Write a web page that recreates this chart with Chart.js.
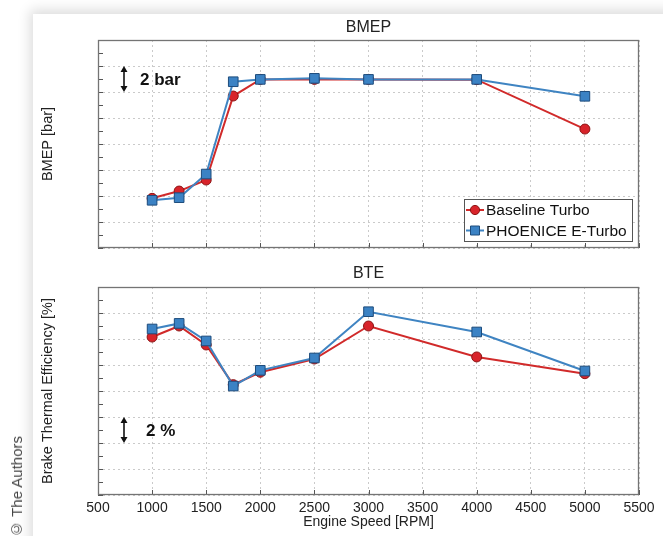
<!DOCTYPE html>
<html>
<head>
<meta charset="utf-8">
<script src="https://cdn.jsdelivr.net/npm/chart.js@4.4.0/dist/chart.umd.min.js"></script>
<style>
  body { margin: 0; width: 663px; height: 536px; background: #fff; position: relative; overflow: hidden; font-family: 'Liberation Sans', Arial, sans-serif; }
  #panel { position: absolute; left: 33px; top: 14px; width: 660px; height: 560px; background: #fff; box-shadow: -3px -4px 12px rgba(0, 0, 0, 0.14); }
  #top { position: absolute; left: 0; top: 0; }
  #bottom { position: absolute; left: 0; top: 262px; }
  #credit { position: absolute; left: 8px; top: 436px; writing-mode: vertical-rl; transform: rotate(180deg); font-size: 15px; color: #444; white-space: nowrap; }
</style>
</head>
<body>
<div id="panel"></div>
<canvas id="top" width="663" height="262"></canvas>
<canvas id="bottom" width="663" height="274"></canvas>
<div id="credit">© The Authors</div>
<script>
// engine speed points [RPM]
const rpm = [1000, 1250, 1500, 1750, 2000, 2500, 3000, 4000, 5000];

// BMEP [bar] (absolute level not given in the figure, only the 2 bar scale)
const bmepBaseline = [11.82, 12.38, 13.23, 19.69, 20.97, 20.97, 20.97, 20.95, 17.15];
const bmepPhoenice = [11.67, 11.87, 13.69, 20.79, 20.97, 21.05, 20.97, 20.97, 19.67];

// brake thermal efficiency [%]
const bteBaseline = [36.15, 37.0, 35.54, 32.49, 33.44, 34.46, 37.0, 34.62, 33.33];
const btePhoenice = [36.77, 37.2, 35.85, 32.38, 33.59, 34.54, 38.1, 36.54, 33.54];

const seriesNames = ['Baseline Turbo', 'PHOENICE E-Turbo'];
const xTicks = [500, 5500, 500]; // min, max, step

Chart.defaults.font.family = "'Liberation Sans', Arial, sans-serif";
Chart.defaults.color = '#222';

const red = { line: '#d12a2a', fill: '#d8232a', edge: '#8c1414' };
const blue = { line: '#3f84c2', fill: '#3b82c4', edge: '#1e4c7c' };

const toPoints = (ys) => rpm.map((x, i) => ({ x, y: ys[i] }));

const makeDatasets = (base, phoenice) => [
  {
    label: seriesNames[0],
    data: toPoints(base),
    borderColor: red.line,
    borderWidth: 2,
    pointStyle: 'circle',
    pointRadius: 5,
    pointBackgroundColor: red.fill,
    pointBorderColor: red.edge,
    pointBorderWidth: 1,
    order: 1,
  },
  {
    label: seriesNames[1],
    data: toPoints(phoenice),
    borderColor: blue.line,
    borderWidth: 2,
    pointStyle: 'rect',
    pointRadius: 6.8,
    pointBackgroundColor: blue.fill,
    pointBorderColor: blue.edge,
    pointBorderWidth: 1,
    order: 0,
  },
];

// frame and inward tick marks
const frameTicks = {
  id: 'frameTicks',
  afterDraw(chart) {
    const { ctx, chartArea: a, scales: { x, y } } = chart;
    ctx.save();
    ctx.strokeStyle = '#555';
    ctx.lineWidth = 1;
    ctx.beginPath();
    for (let v = y.min; v <= y.max; v += 1) {
      const py = Math.round(y.getPixelForValue(v)) + 0.5;
      ctx.moveTo(a.left, py);
      ctx.lineTo(a.left + 5, py);
    }
    for (let v = x.min; v <= x.max; v += xTicks[2]) {
      const px = Math.round(x.getPixelForValue(v)) + 0.5;
      ctx.moveTo(px, a.bottom);
      ctx.lineTo(px, a.bottom - 5);
    }
    ctx.stroke();
    ctx.strokeStyle = '#747474';
    ctx.lineWidth = 1.3;
    ctx.strokeRect(Math.round(a.left) + 0.5, Math.round(a.top) + 0.5, Math.round(a.width) - 1, Math.round(a.height) - 1);
    ctx.restore();
  },
};

// "2 bar" / "2 %" scale indicator
const scaleBar = {
  id: 'scaleBar',
  afterDraw(chart, args, opts) {
    if (!opts.label) return;
    const { ctx, chartArea: a, scales: { y } } = chart;
    const x = a.left + 26;
    const y1 = y.getPixelForValue(opts.to);
    const y2 = y.getPixelForValue(opts.from);
    ctx.save();
    ctx.strokeStyle = '#111';
    ctx.fillStyle = '#111';
    ctx.lineWidth = 1.6;
    ctx.beginPath();
    ctx.moveTo(x, y1 + 4);
    ctx.lineTo(x, y2 - 4);
    ctx.stroke();
    ctx.beginPath();
    ctx.moveTo(x, y1); ctx.lineTo(x - 3.5, y1 + 6); ctx.lineTo(x + 3.5, y1 + 6); ctx.closePath();
    ctx.moveTo(x, y2); ctx.lineTo(x - 3.5, y2 - 6); ctx.lineTo(x + 3.5, y2 - 6); ctx.closePath();
    ctx.fill();
    ctx.font = "bold 17px 'Liberation Sans', Arial, sans-serif";
    ctx.textBaseline = 'middle';
    ctx.fillText(opts.label, x + opts.gap, (y1 + y2) / 2 + 1);
    ctx.restore();
  },
};

// boxed legend inside the plot area, bottom right
const boxLegend = {
  id: 'boxLegend',
  afterDraw(chart, args, opts) {
    if (!opts.show) return;
    const { ctx, chartArea: a } = chart;
    const w = 168, h = 42;
    const left = a.right - 7 - w, top = a.bottom - 7 - h;
    ctx.save();
    ctx.fillStyle = '#fff';
    ctx.fillRect(left, top, w, h);
    ctx.strokeStyle = '#555';
    ctx.lineWidth = 1;
    ctx.strokeRect(Math.round(left) + 0.5, Math.round(top) + 0.5, w, h);
    ctx.font = "15.5px 'Liberation Sans', Arial, sans-serif";
    ctx.textBaseline = 'middle';
    chart.data.datasets.forEach((ds, i) => {
      const cy = top + 11 + i * 20.5;
      const mx = left + 11;
      ctx.strokeStyle = ds.borderColor;
      ctx.lineWidth = 2;
      ctx.beginPath();
      ctx.moveTo(left + 2, cy);
      ctx.lineTo(left + 20, cy);
      ctx.stroke();
      ctx.fillStyle = ds.pointBackgroundColor;
      ctx.strokeStyle = ds.pointBorderColor;
      ctx.lineWidth = 1;
      ctx.beginPath();
      if (ds.pointStyle === 'rect') {
        ctx.rect(mx - 4.5, cy - 4.5, 9, 9);
      } else {
        ctx.arc(mx, cy, 4.6, 0, Math.PI * 2);
      }
      ctx.fill();
      ctx.stroke();
      ctx.fillStyle = '#111';
      ctx.fillText(ds.label, left + 22, cy + 1);
    });
    ctx.restore();
  },
};

function makeChart(id, cfg) {
  return new Chart(document.getElementById(id), {
    type: 'line',
    data: { datasets: makeDatasets(cfg.base, cfg.phoenice) },
    plugins: [frameTicks, scaleBar, boxLegend],
    options: {
      responsive: false,
      animation: false,
      devicePixelRatio: 1,
      layout: { padding: { left: 0, right: 24, top: 0, bottom: 0 } },
      plugins: {
        legend: { display: false },
        tooltip: { enabled: false },
        scaleBar: cfg.bar,
        boxLegend: { show: cfg.legend },
      },
      scales: {
        // top axis only carries the panel title, centred over the plot
        xt: {
          type: 'linear',
          position: 'top',
          min: xTicks[0],
          max: xTicks[1],
          ticks: { display: false },
          grid: { display: false },
          border: { display: false },
          title: {
            display: true,
            text: cfg.title,
            font: { size: 16 },
            color: '#222',
            padding: { top: cfg.titleTop, bottom: 0 },
          },
          afterFit: (s) => { s.height = cfg.titleHeight; },
        },
        x: {
          type: 'linear',
          min: xTicks[0],
          max: xTicks[1],
          ticks: {
            stepSize: xTicks[2],
            display: cfg.xLabels,
            padding: 5,
            font: { size: 14 },
            color: '#222',
            callback: (v) => String(v),
          },
          grid: { color: '#cacaca', drawTicks: false },
          border: { display: false, dash: [2, 3] },
          title: {
            display: cfg.xLabels,
            text: 'Engine Speed [RPM]',
            font: { size: 14 },
            color: '#222',
            padding: { top: 0, bottom: 5 },
          },
          afterFit: (s) => { s.height = cfg.xHeight; },
        },
        y: {
          min: cfg.yRange[0],
          max: cfg.yRange[1],
          ticks: { stepSize: 2, display: false },
          grid: { color: '#cacaca', drawTicks: false },
          border: { display: false, dash: [2, 3] },
          title: {
            display: true,
            text: cfg.yTitle,
            font: { size: 14.5 },
            color: '#222',
            padding: { top: 39, bottom: 0 },
          },
          afterFit: (s) => { s.width = 98; },
        },
      },
    },
  });
}

makeChart('top', {
  base: bmepBaseline,
  phoenice: bmepPhoenice,
  title: 'BMEP',
  titleTop: 18,
  titleHeight: 40,
  yTitle: 'BMEP [bar]',
  yRange: [8, 24],
  xLabels: false,
  xHeight: 14,
  legend: true,
  bar: { from: 20, to: 22, label: '2 bar', gap: 16 },
});

makeChart('bottom', {
  base: bteBaseline,
  phoenice: btePhoenice,
  title: 'BTE',
  titleTop: 2,
  titleHeight: 25,
  yTitle: 'Brake Thermal Efficiency [%]',
  yRange: [24, 40],
  xLabels: true,
  xHeight: 41,
  legend: false,
  bar: { from: 28, to: 30, label: '2 %', gap: 22 },
});
</script>
</body>
</html>
